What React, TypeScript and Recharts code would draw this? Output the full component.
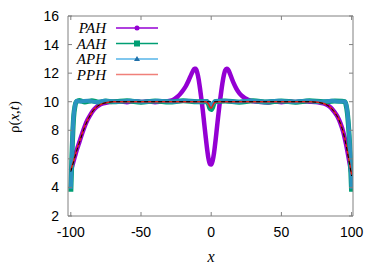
import { LineChart, Line, XAxis, YAxis } from 'recharts'

type Pt = [number, number]

const xTicks = [-100, -50, 0, 50, 100]
const yTicks = [2, 4, 6, 8, 10, 12, 14, 16]
const keyNames = ['PAH', 'AAH', 'APH', 'PPH']
const keyColors = ['#9400d3', '#009e73', '#56b4e9', '#f0807a']

const pah: Pt[] = [
  [-100, 5.2], [-99, 5.5], [-98, 5.85], [-97, 6.2], [-96, 6.55], [-95, 6.85],
  [-94, 7.15], [-92, 7.75], [-90, 8.3], [-88, 8.75], [-86, 9.1], [-84, 9.4],
  [-82, 9.6], [-80, 9.75], [-77, 9.88], [-74, 9.95], [-70, 10.0], [-65, 10.03],
  [-60, 9.97], [-55, 10.04], [-50, 9.98], [-45, 10.03], [-40, 9.97], [-35, 10.02],
  [-30, 10.05], [-28, 10.1], [-26, 10.2], [-24, 10.35], [-22, 10.55], [-20, 10.8],
  [-18, 11.1], [-16, 11.5], [-14, 11.95], [-13, 12.15], [-12, 12.3], [-11, 12.3],
  [-10, 12.05], [-9, 11.6], [-8, 10.95], [-7, 10.2], [-6, 9.4], [-5, 8.5],
  [-4, 7.6], [-3, 6.75], [-2, 6.05], [-1, 5.65], [0, 5.6], [1, 5.85],
  [2, 6.4], [3, 7.2], [4, 8.1], [5, 9.0], [6, 9.85], [7, 10.6],
  [8, 11.3], [9, 11.85], [10, 12.2], [11, 12.3], [12, 12.25], [13, 12.05],
  [14, 11.8], [16, 11.3], [18, 10.9], [20, 10.6], [22, 10.4], [24, 10.25],
  [26, 10.15], [28, 10.08], [30, 10.03], [35, 9.98], [40, 9.95], [45, 10.02],
  [50, 9.97], [55, 10.03], [60, 9.98], [65, 10.02], [70, 10.0], [74, 9.98],
  [77, 9.95], [80, 9.88], [82, 9.8], [84, 9.68], [86, 9.5], [88, 9.25],
  [90, 8.95], [92, 8.5], [94, 7.9], [95, 7.5], [96, 7.05], [97, 6.55],
  [98, 6.0], [99, 5.45], [100, 4.9],
]

const aah: Pt[] = [
  [-100, 3.7], [-99.5, 5.2], [-99, 6.8], [-98.5, 8.0], [-98, 8.9], [-97, 9.7],
  [-96, 10.0], [-94, 10.08], [-90, 9.98], [-85, 10.06], [-80, 9.97], [-75, 10.05],
  [-70, 9.99], [-60, 10.07], [-50, 9.96], [-40, 10.05], [-30, 9.98], [-20, 10.06],
  [-10, 9.99], [-3, 10.02], [-2, 9.85], [-1, 9.55], [0, 9.45], [1, 9.6],
  [2, 9.9], [3, 10.02], [10, 10.05], [20, 9.97], [30, 10.06], [40, 9.98],
  [50, 10.05], [60, 9.97], [70, 10.06], [80, 9.99], [88, 10.05], [93, 10.03],
  [95, 10.0], [96, 9.8], [97, 9.2], [98, 8.0], [99, 6.2], [99.5, 5.0], [100, 3.7],
]

const aph: Pt[] = [
  [-100, 3.9], [-99.5, 5.4], [-99, 7.0], [-98.5, 8.2], [-98, 9.0], [-97, 9.75],
  [-96, 10.05], [-93, 10.02], [-88, 10.07], [-82, 9.98], [-76, 10.06], [-68, 10.0],
  [-58, 10.07], [-48, 9.99], [-38, 10.06], [-28, 10.0], [-18, 10.07], [-8, 10.0],
  [-3, 10.03], [-1, 9.8], [0, 9.7], [1, 9.82], [3, 10.03], [8, 10.06],
  [18, 9.99], [28, 10.07], [38, 10.0], [48, 10.06], [58, 9.99], [68, 10.07],
  [78, 10.0], [86, 10.06], [92, 10.02], [95, 10.02], [96, 9.85], [97, 9.3],
  [98, 8.1], [99, 6.4], [99.5, 5.2], [100, 3.9],
]

const pph: Pt[] = [
  [-100, 5.2], [-98, 5.85], [-96, 6.55], [-94, 7.15], [-92, 7.75], [-90, 8.3],
  [-88, 8.75], [-86, 9.1], [-84, 9.4], [-82, 9.6], [-80, 9.75], [-77, 9.88],
  [-74, 9.95], [-70, 10.0], [-50, 10.0], [-30, 10.0], [-10, 10.0], [-4, 10.0],
  [-2, 9.85], [-1, 9.65], [0, 9.55], [1, 9.7], [2, 9.9], [4, 10.0],
  [10, 10.0], [30, 10.0], [50, 10.0], [70, 10.0], [74, 9.98], [77, 9.95],
  [80, 9.88], [82, 9.8], [84, 9.68], [86, 9.5], [88, 9.25], [90, 8.95],
  [92, 8.5], [94, 7.9], [96, 7.05], [98, 6.0], [100, 4.9],
]

const exact: Pt[] = [
  [-100, 5.1], [-98, 5.8], [-96, 6.5], [-94, 7.1], [-92, 7.7], [-90, 8.25],
  [-88, 8.7], [-86, 9.08], [-84, 9.38], [-82, 9.6], [-80, 9.75], [-77, 9.88],
  [-74, 9.95], [-70, 10.0], [0, 10.0], [70, 10.0], [74, 9.97], [77, 9.94],
  [80, 9.87], [82, 9.79], [84, 9.67], [86, 9.49], [88, 9.24], [90, 8.93],
  [92, 8.48], [94, 7.88], [96, 7.0], [98, 5.95], [100, 4.8],
]

const toRows = (pts: Pt[]) => pts.map(([x, y]) => ({ x, y }))

const L = 68
const R = 353
const T = 16
const B = 216
const border = '#808080'
const serif = "'Liberation Serif', 'Times New Roman', serif"
const tickFont = { fontFamily: "'Liberation Sans', Arial, sans-serif", fontSize: 14, fill: '#000' }

const BottomTick = ({ x, payload }: any) => (
  <g>
    <line x1={x} x2={x} y1={B} y2={B - 4} stroke={border} />
    <text x={x} y={237} textAnchor="middle" {...tickFont}>{payload.value}</text>
  </g>
)
const TopTick = ({ x }: any) => <line x1={x} x2={x} y1={T} y2={T + 4} stroke={border} />
const LeftTick = ({ y, payload }: any) => (
  <g>
    <line x1={L} x2={L + 4} y1={y} y2={y} stroke={border} />
    <text x={59} y={y + 5} textAnchor="end" {...tickFont}>{payload.value}</text>
  </g>
)
const RightTick = ({ y }: any) => <line x1={R} x2={R - 4} y1={y} y2={y} stroke={border} />

const marker = (name: string, cx: number, cy: number, c: string) => {
  if (name === 'PAH') return <circle cx={cx} cy={cy} r={2.5} fill={c} />
  if (name === 'AAH') return <rect x={cx - 3} y={cy - 3} width={6} height={6} fill={c} />
  if (name === 'APH')
    return <polygon points={`${cx},${cy - 3} ${cx + 3},${cy + 2} ${cx - 3},${cy + 2}`} fill="#1f6fa8" />
  return null
}

export default function App() {
  return (
    <div style={{ position: 'absolute', left: 0, top: 0, width: 382, height: 267, background: '#fff' }}>
      <LineChart width={382} height={267} margin={{ top: T - 1, right: 382 - R - 1, left: L - 1, bottom: 267 - B - 1 }}>
        <XAxis dataKey="x" type="number" domain={[-102, 101]} ticks={xTicks} allowDataOverflow
          height={1} stroke={border} tickLine={false} tick={<BottomTick />} />
        <XAxis xAxisId="top" orientation="top" dataKey="x" type="number" domain={[-102, 101]} ticks={xTicks}
          allowDataOverflow height={1} stroke={border} tickLine={false} tick={<TopTick />} />
        <YAxis type="number" domain={[2, 16]} ticks={yTicks} allowDataOverflow
          width={1} stroke={border} tickLine={false} tick={<LeftTick />} />
        <YAxis yAxisId="right" orientation="right" type="number" domain={[2, 16]} ticks={yTicks}
          allowDataOverflow width={1} stroke={border} tickLine={false} tick={<RightTick />} />
        <Line name="PAH" data={toRows(pah)} dataKey="y" type="monotone" stroke="#9400d3"
          strokeWidth={4.5} dot={false} isAnimationActive={false} />
        <Line name="AAH" data={toRows(aah)} dataKey="y" type="monotone" stroke="#009e73"
          strokeWidth={5} dot={false} isAnimationActive={false} />
        <Line name="APH" data={toRows(aph)} dataKey="y" type="monotone" stroke="#2a93c0"
          strokeWidth={4} dot={false} isAnimationActive={false} />
        <Line name="PPH" data={toRows(pph)} dataKey="y" type="monotone" stroke="#e51e10"
          strokeWidth={1.5} dot={false} isAnimationActive={false} />
        <Line name="exact" data={toRows(exact)} dataKey="y" type="monotone" stroke="#000"
          strokeWidth={1} strokeDasharray="4 3" dot={false} legendType="none" isAnimationActive={false} />
      </LineChart>
      <svg width={382} height={267} style={{ position: 'absolute', left: 0, top: 0, pointerEvents: 'none' }}>
        <g transform="translate(68,16)">
          {keyNames.map((name, i) => {
            const cy = 12 + i * 15.5
            return (
              <g key={name}>
                <text x={38} y={cy + 5} textAnchor="end" fontFamily={serif} fontStyle="italic" fontSize={15}>
                  {name}
                </text>
                <line x1={48} x2={90} y1={cy} y2={cy} stroke={keyColors[i]} strokeWidth={1.5} />
                {marker(name, 69, cy, keyColors[i])}
              </g>
            )
          })}
        </g>
        <text transform="translate(19,117) rotate(-90)" textAnchor="middle" fontFamily={serif} fontSize={15}>
          ρ(<tspan fontStyle="italic">x</tspan>,<tspan fontStyle="italic">t</tspan>)
        </text>
        <text x={211} y={262} textAnchor="middle" fontFamily={serif} fontStyle="italic" fontSize={16}>x</text>
      </svg>
    </div>
  )
}
